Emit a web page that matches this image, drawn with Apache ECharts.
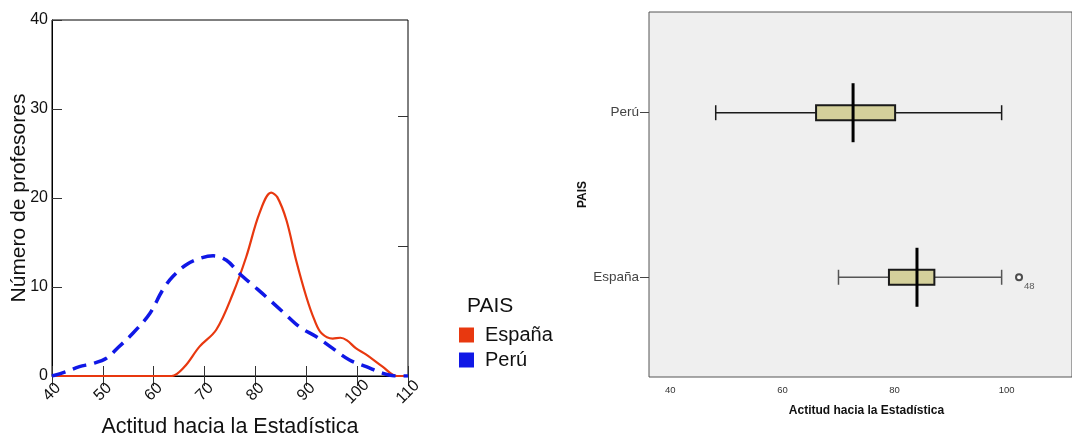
<!DOCTYPE html>
<html>
<head>
<meta charset="utf-8">
<script src="https://cdn.jsdelivr.net/npm/echarts@6/dist/echarts.min.js"></script>
<style>
html, body { margin: 0; padding: 0; background: #fff; }
#chart { width: 1072px; height: 435px; }
</style>
</head>
<body>
<div id="chart"></div>
<script>
// curvas de densidad (izquierda)
var espanaX = [40, 63.5, 66, 69, 72.3, 75.6, 78.2, 80.8, 83.1, 84.3, 86.1, 88, 90, 91.6, 93, 95.2, 96.7, 98, 99.8, 101.8, 105, 107.8, 110];
var espanaY = [0, 0, 1.0, 3.3, 5.2, 9.3, 13.4, 18.3, 20.6, 20.1, 17.5, 13.0, 8.9, 6.3, 4.8, 4.2, 4.3, 4.0, 3.1, 2.4, 1.05, 0, 0];
var peruX = [40, 42.8, 45.4, 48, 50.7, 53, 55.9, 59.2, 61.8, 63.8, 66.4, 69, 71.7, 74.3, 76.9, 79.5, 82.1, 85.4, 88.7, 92, 95.2, 98.5, 101.8, 105.1, 107.7, 110];
var peruY = [0, 0.5, 1.05, 1.4, 2.0, 3.2, 4.8, 7.0, 9.7, 11.2, 12.5, 13.2, 13.5, 13.0, 11.5, 10.2, 8.9, 7.2, 5.5, 4.4, 3.1, 1.8, 1.05, 0.3, 0, 0];
var rightTicks = [14.6, 29.2];

// diagrama de cajas (derecha)
var boxCategories = ['España', 'Perú'];
// [min, Q1, mediana, Q3, max]
var boxStats = [
	[70.0, 79.0, 84.0, 87.1, 99.1],
	[48.1, 66.0, 72.6, 80.1, 99.1]
];
var outlierValues = [102.2];
var outlierCats = [0];
var outlierLabels = ['48'];
var boxTicks = [40, 60, 80, 100];

var RED = '#e8380f';
var BLUE = '#1018e6';
var FONT = 'Liberation Sans, Arial, sans-serif';

function zip(xs, ys) {
	var out = [];
	for (var i = 0; i < xs.length; i++) out.push([xs[i], ys[i]]);
	return out;
}

var boxData = boxStats.map(function (s, i) {
	return [i].concat(s);
});
var outlierData = outlierValues.map(function (v, i) {
	return { value: [v, outlierCats[i]], label: outlierLabels[i] };
});

function renderBox(params, api) {
	var cat = api.value(0);
	var lo = api.coord([api.value(1), cat]);
	var q1 = api.coord([api.value(2), cat]);
	var md = api.coord([api.value(3), cat]);
	var q3 = api.coord([api.value(4), cat]);
	var hi = api.coord([api.value(5), cat]);
	var y = lo[1];
	var wc = cat === 0 ? '#555' : '#1a1a1a';
	var ws = { stroke: wc, lineWidth: 1.5 };
	return {
		type: 'group',
		children: [
			{ type: 'line', shape: { x1: lo[0], y1: y, x2: q1[0], y2: y }, style: ws },
			{ type: 'line', shape: { x1: q3[0], y1: y, x2: hi[0], y2: y }, style: ws },
			{ type: 'line', shape: { x1: lo[0], y1: y - 7.5, x2: lo[0], y2: y + 7.5 }, style: ws },
			{ type: 'line', shape: { x1: hi[0], y1: y - 7.5, x2: hi[0], y2: y + 7.5 }, style: ws },
			{ type: 'rect', shape: { x: q1[0], y: y - 7.5, width: q3[0] - q1[0], height: 15 },
				style: { fill: '#d4d09b', stroke: '#1a1a1a', lineWidth: 2 } },
			{ type: 'line', shape: { x1: md[0], y1: y - 29.5, x2: md[0], y2: y + 29.5 },
				style: { stroke: '#000', lineWidth: 3 } }
		]
	};
}

var chart = echarts.init(document.getElementById('chart'), null, { renderer: 'canvas' });

var option = {
	animation: false,
	textStyle: { fontFamily: FONT },
	title: {
		text: 'PAIS',
		left: 467,
		top: 296,
		padding: 0,
		textStyle: { fontFamily: FONT, fontSize: 21, fontWeight: 'normal', color: '#111' }
	},
	graphic: [{
		// titulo del eje Y izquierdo
		type: 'text', x: 19.5, y: 198, rotation: Math.PI / 2,
		style: { text: 'Número de profesores', font: '21px ' + FONT, fill: '#111',
			align: 'center', verticalAlign: 'middle' }
	}],
	legend: {
		orient: 'vertical',
		left: 459,
		top: 325,
		itemWidth: 15,
		itemHeight: 15,
		itemGap: 5,
		icon: 'rect',
		padding: 0,
		textStyle: { fontFamily: FONT, fontSize: 20, color: '#111', padding: [0, 0, 0, 6] },
		data: [
			{ name: 'España', itemStyle: { color: RED }, lineStyle: { width: 0 } },
			{ name: 'Perú', itemStyle: { color: BLUE }, lineStyle: { width: 0 } }
		]
	},
	grid: [
		{ left: 52, top: 20, width: 356, height: 356, outerBoundsMode: 'none',
			show: true, borderColor: '#000', borderWidth: 1, backgroundColor: '#fff' },
		{ left: 649, top: 12, right: 0, bottom: 58, outerBoundsMode: 'none',
			show: true, borderColor: '#555', borderWidth: 1, backgroundColor: '#efefef' }
	],
	xAxis: [
		{
			gridIndex: 0, type: 'value', min: 40, max: 110, interval: 10,
			name: 'Actitud hacia la Estadística', nameLocation: 'middle', nameGap: 40,
			nameTextStyle: { fontFamily: FONT, fontSize: 21.5, color: '#111' },
			axisLine: { show: true, lineStyle: { color: '#000' } },
			axisTick: { show: true, inside: true, length: 10, lineStyle: { color: '#333' } },
			axisLabel: { rotate: 45, align: 'center', verticalAlign: 'middle', margin: 16,
				fontFamily: FONT, fontSize: 16, color: '#111' },
			splitLine: { show: false }
		},
		{
			gridIndex: 0, type: 'value', position: 'top', min: 40, max: 110, interval: 10,
			axisLine: { show: false },
			axisTick: { show: true, inside: true, length: 10, lineStyle: { color: '#333' } },
			axisLabel: { show: false },
			splitLine: { show: false }
		},
		{
			gridIndex: 1, type: 'value', min: 36.2, max: 111.65,
			name: 'Actitud hacia la Estadística', nameLocation: 'middle', nameGap: 28,
			nameTextStyle: { fontFamily: FONT, fontSize: 12, fontWeight: 'bold', color: '#111', padding: [0, 0, 0, 12] },
			axisLine: { show: false },
			axisTick: { show: false },
			axisLabel: { customValues: boxTicks, margin: 8, fontFamily: FONT, fontSize: 9.5, color: '#333' },
			splitLine: { show: false }
		}
	],
	yAxis: [
		{
			gridIndex: 0, type: 'value', min: 0, max: 40, interval: 10,
			axisLine: { show: true, lineStyle: { color: '#000' } },
			axisTick: { show: true, inside: true, length: 10, lineStyle: { color: '#333' } },
			axisLabel: { margin: 4, fontFamily: FONT, fontSize: 16, color: '#111' },
			splitLine: { show: false }
		},
		{
			gridIndex: 0, type: 'value', position: 'right', min: 0, max: 40,
			axisLine: { show: false },
			axisTick: { show: true, inside: true, length: 10, customValues: rightTicks, lineStyle: { color: '#333' } },
			axisLabel: { show: false },
			splitLine: { show: false }
		},
		{
			gridIndex: 1, type: 'value', min: -0.606, max: 1.612,
			name: 'PAIS', nameLocation: 'middle', nameGap: 60,
			nameTextStyle: { fontFamily: FONT, fontSize: 12, fontWeight: 'bold', color: '#111' },
			axisLine: { show: false },
			axisTick: { show: true, customValues: [0, 1], length: 9, lineStyle: { color: '#444' } },
			axisLabel: { customValues: [0, 1], margin: 10, fontFamily: FONT, fontSize: 13.5, color: '#444',
				formatter: function (v) { return boxCategories[Math.round(v)]; } },
			splitLine: { show: false }
		}
	],
	series: [
		{
			name: 'España', type: 'line', xAxisIndex: 0, yAxisIndex: 0,
			data: zip(espanaX, espanaY), smooth: 0.35, showSymbol: false,
			lineStyle: { color: RED, width: 2.2 }, itemStyle: { color: RED }
		},
		{
			name: 'Perú', type: 'line', xAxisIndex: 0, yAxisIndex: 0,
			data: zip(peruX, peruY), smooth: 0.35, showSymbol: false,
			lineStyle: { color: BLUE, width: 3.5, type: [14, 8] }, itemStyle: { color: BLUE }
		},
		{
			type: 'custom', xAxisIndex: 2, yAxisIndex: 2,
			renderItem: renderBox, data: boxData, clip: false,
			encode: { x: [1, 2, 3, 4, 5], y: 0 }
		},
		{
			type: 'scatter', xAxisIndex: 2, yAxisIndex: 2,
			symbol: 'emptyCircle', symbolSize: 6,
			itemStyle: { color: '#222', borderColor: '#222', borderWidth: 1.5 },
			label: { show: true, position: 'right', distance: 1, offset: [0, 9],
				fontFamily: FONT, fontSize: 9.5, color: '#333',
				formatter: function (p) { return p.data.label; } },
			data: outlierData
		}
	]
};

chart.setOption(option);
</script>
</body>
</html>
